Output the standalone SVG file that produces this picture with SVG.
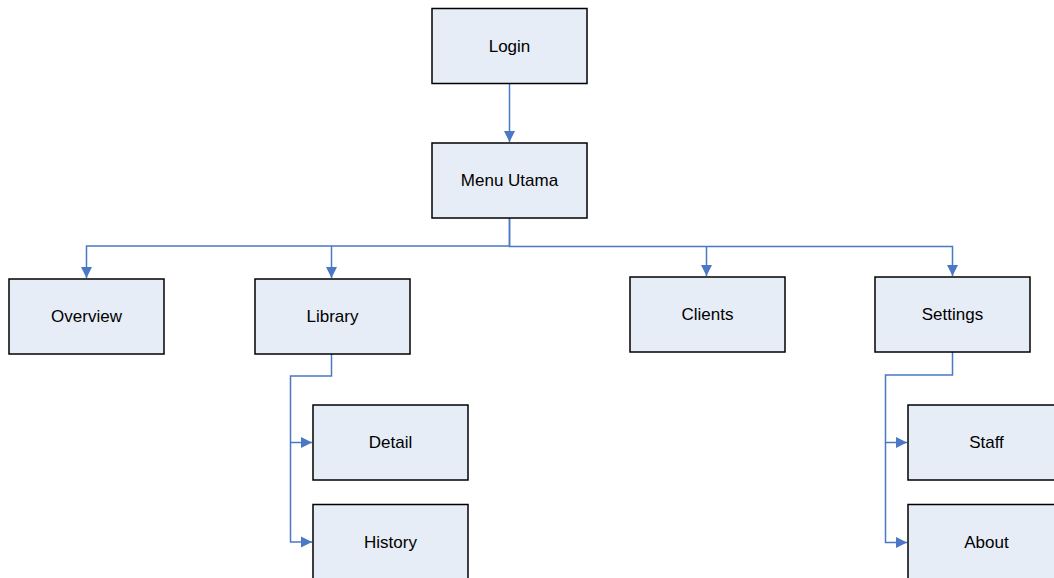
<svg xmlns="http://www.w3.org/2000/svg" width="1054" height="578" viewBox="0 0 1054 578">
<style>
.box{fill:#e7edf7;stroke:#000;stroke-width:1.5}
.lbl{font-family:"Liberation Sans",Arial,sans-serif;font-size:17px;fill:#000;text-anchor:middle;dominant-baseline:central}
.con{fill:none;stroke:#4a78c4;stroke-width:1.5}
</style>
<defs>
<marker id="arr" markerUnits="userSpaceOnUse" markerWidth="12" markerHeight="12" viewBox="0 0 12 12" refX="11" refY="6" orient="auto">
<path d="M0,0.5 L11,6 L0,11.5 Z" fill="#4a78c4"/>
</marker>
</defs>
<rect width="1054" height="578" fill="#fff"/>
<g id="connectors">
<path class="con" d="M509.5,83 V142" marker-end="url(#arr)"/>
<path class="con" d="M509.5,218 V246 H86.5 V278" marker-end="url(#arr)"/>
<path class="con" d="M331.5,246 V278" marker-end="url(#arr)"/>
<path class="con" d="M509.5,218 V246.5 H952.5 V276" marker-end="url(#arr)"/>
<path class="con" d="M706.5,246.5 V276" marker-end="url(#arr)"/>
<path class="con" d="M331.5,354 V376 H290.5 V442.5 H312" marker-end="url(#arr)"/>
<path class="con" d="M290.5,442.5 V542 H312" marker-end="url(#arr)"/>
<path class="con" d="M952.5,352 V375 H885.5 V442.5 H907" marker-end="url(#arr)"/>
<path class="con" d="M885.5,442.5 V542.5 H907" marker-end="url(#arr)"/>
</g>
<g id="login"><rect class="box" x="432" y="8.5" width="155" height="75"/><text class="lbl" x="509.5" y="46">Login</text></g>
<g id="menu-utama"><rect class="box" x="432" y="143" width="155" height="75"/><text class="lbl" x="509.5" y="180.5">Menu Utama</text></g>
<g id="overview"><rect class="box" x="9" y="279" width="155" height="75"/><text class="lbl" x="86.5" y="316.5">Overview</text></g>
<g id="library"><rect class="box" x="255" y="279" width="155" height="75"/><text class="lbl" x="332.5" y="316.5">Library</text></g>
<g id="clients"><rect class="box" x="630" y="277" width="155" height="75"/><text class="lbl" x="707.5" y="314.5">Clients</text></g>
<g id="settings"><rect class="box" x="875" y="277" width="155" height="75"/><text class="lbl" x="952.5" y="314.5">Settings</text></g>
<g id="detail"><rect class="box" x="313" y="405" width="155" height="75"/><text class="lbl" x="390.5" y="442.5">Detail</text></g>
<g id="history"><rect class="box" x="313" y="504.5" width="155" height="75"/><text class="lbl" x="390.5" y="542">History</text></g>
<g id="staff"><rect class="box" x="908" y="405" width="155" height="75"/><text class="lbl" x="986.5" y="442.5">Staff</text></g>
<g id="about"><rect class="box" x="908" y="504.5" width="155" height="75"/><text class="lbl" x="986.5" y="542">About</text></g>
</svg>
